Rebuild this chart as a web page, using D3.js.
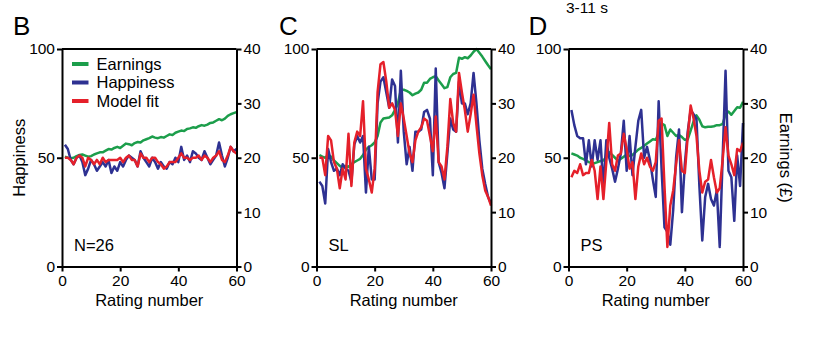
<!DOCTYPE html>
<html>
<head>
<meta charset="utf-8">
<script src="https://cdn.jsdelivr.net/npm/d3@7"></script>
<style>
  body { margin: 0; background: #fff; }
  svg { font-family: "Liberation Sans", Arial, sans-serif; }
</style>
</head>
<body>
<svg id="chart" width="816" height="354"></svg>
<script>
// rating numbers 1..60
const ratingNumbers = d3.range(1, 61);

const xTicks = [0, 20, 40, 60];
const happinessTicks = [0, 50, 100];
const earningsTicks = [0, 10, 20, 30, 40];

// Panel B (group mean, N=26)
const earningsB = [20.2, 20.0, 19.9, 20.0, 20.3, 20.5, 20.6, 20.4, 20.2, 20.3,
  20.6, 20.8, 21.0, 21.0, 21.3, 21.6, 21.5, 21.8, 22.0, 21.8,
  22.2, 22.6, 22.5, 22.3, 22.7, 22.9, 22.8, 23.2, 23.4, 23.6,
  23.9, 23.7, 23.6, 23.8, 23.7, 24.0, 24.3, 24.2, 24.6, 24.8,
  25.0, 24.9, 25.3, 25.4, 25.6, 25.5, 25.8, 26.0, 25.9, 26.1,
  26.4, 26.5, 26.8, 27.1, 26.9, 27.2, 27.7, 28.0, 28.2, 28.4];
const happinessB = [56, 54, 49, 47, 50, 51, 48, 42, 45, 49,
  47, 44, 46, 48, 46, 49, 43, 46, 44, 48,
  46, 49, 51, 50, 49, 46, 53, 50, 48, 46,
  50, 48, 45, 48, 46, 45, 48, 47, 50, 48,
  55, 49, 51, 48, 53, 52, 50, 49, 53, 50,
  47, 49, 51, 57, 51, 46, 50, 55, 53, 54];
const fitB = [50, 50, 49, 47, 50, 51, 50, 46, 50, 49,
  47, 49, 47, 50, 48, 49, 49, 49, 49, 50,
  48, 50, 51, 49, 49, 46, 52, 50, 50, 48,
  50, 50, 48, 47, 45, 46, 48, 48, 48, 50,
  52, 50, 50, 49, 50, 50, 51, 49, 51, 50,
  48, 50, 51, 53, 49, 48, 51, 55, 53, 52];

// Panel C (participant SL)
const earningsC = [20.5, 20.2, 20.0, 20.5, 20.2, 19.5, 19.0, 18.5, 18.2, 18.5,
  18.3, 18.8, 19.2, 19.5, 19.8, 20.5, 21.5, 22.0, 22.3, 22.8,
  24.0, 26.5, 27.2, 27.3, 27.4, 27.8, 28.8, 30.0, 32.5, 32.5,
  32.3, 32.0, 31.5, 31.8, 32.0, 32.5, 33.8, 33.8, 34.5, 34.8,
  35.0, 34.2, 33.5, 32.8, 33.0, 34.8, 35.4, 35.6, 38.4, 38.2,
  38.5, 38.3, 38.8, 39.5, 40.0, 39.3, 38.6, 37.8, 37.0, 36.3];
const happinessC = [39, 37, 29, 54, 48, 44, 45, 42, 47, 45,
  44, 39, 56, 60, 57, 60, 34, 55, 40, 40,
  75, 85, 87, 80, 73, 86, 83, 57, 90, 62,
  47, 55, 44, 62, 62, 63, 71, 72, 68, 42,
  91, 48, 43, 36, 52, 68, 63, 62, 85, 75,
  75, 70, 75, 89, 75, 58, 45, 38, 32, 29];
const fitC = [50, 50, 42, 60, 58, 48, 45, 36, 45, 40,
  61, 37, 57, 62, 60, 76, 45, 40, 34, 45,
  80, 93, 94, 85, 73, 75, 72, 60, 75, 68,
  60, 52, 48, 58, 62, 64, 68, 67, 60, 53,
  69, 48, 46, 40, 55, 77, 66, 62, 89, 80,
  72, 62, 70, 79, 65, 52, 42, 35, 32, 28];

// Panel D (participant PS)
const earningsD = [20.8, 20.6, 20.4, 20.0, 19.8, 19.5, 19.2, 19.0, 19.0, 19.2,
  19.4, 19.5, 20.2, 21.0, 20.5, 20.0, 19.5, 19.8, 20.2, 20.6,
  20.3, 20.5, 21.0, 21.5, 21.8, 22.2, 22.6, 23.0, 23.4, 23.3,
  24.5, 26.3, 26.0, 24.0, 25.2, 24.6, 24.0, 24.2, 23.8, 23.3,
  23.4, 25.0, 26.7, 27.8, 27.0, 25.8, 25.6, 25.7, 25.7, 25.8,
  26.0, 26.0, 26.2, 28.0, 28.5, 27.9, 28.6, 29.3, 29.2, 30.3];
const happinessD = [72, 65, 60, 59, 59, 47, 58, 46, 58, 49,
  58, 36, 58, 50, 45, 39, 45, 52, 67, 44,
  60, 42, 55, 67, 72, 50, 55, 49, 40, 32,
  76, 45, 18, 16, 10, 26, 50, 63, 25, 47,
  62, 72, 70, 68, 37, 12, 32, 38, 31, 28,
  35, 9, 50, 90, 44, 41, 21, 51, 37, 66];
const fitD = [41, 44, 43, 47, 42, 43, 43, 49, 44, 31,
  46, 31, 48, 66, 47, 44, 51, 52, 61, 54,
  45, 48, 31, 46, 52, 47, 50, 46, 44, 48,
  67, 68, 37, 9, 28, 35, 47, 58, 44, 43,
  60, 74, 68, 60, 44, 34, 39, 40, 49, 41,
  34, 36, 49, 64, 51, 47, 42, 54, 53, 57];

const panels = [
  { letter: 'B', left: 62, label: 'N=26', earnings: earningsB, happiness: happinessB, fit: fitB, yTitle: true },
  { letter: 'C', left: 316.5, label: 'SL', earnings: earningsC, happiness: happinessC, fit: fitC },
  { letter: 'D', left: 568.5, label: 'PS', earnings: earningsD, happiness: happinessD, fit: fitD, eTitle: true }
];

const colors = { earnings: '#1c9e4b', happiness: '#2e3192', fit: '#e5202a' };
const plotTop = 49, plotH = 217.5, plotW = 174.5;
const fontSize = 15.5;

const svg = d3.select('#chart');

panels.forEach((p) => {
  const x = d3.scaleLinear().domain([0, 60]).range([0, plotW]);
  const yH = d3.scaleLinear().domain([0, 100]).range([plotH, 0]);
  const yE = d3.scaleLinear().domain([0, 40]).range([plotH, 0]);

  const g = svg.append('g').attr('transform', `translate(${p.left},${plotTop})`);

  // data lines
  const lineE = d3.line().x((d, i) => x(ratingNumbers[i])).y((d) => yE(d));
  const lineH = d3.line().x((d, i) => x(ratingNumbers[i])).y((d) => yH(d));

  g.append('path').datum(p.earnings)
    .attr('fill', 'none').attr('stroke', colors.earnings)
    .attr('stroke-width', 2.5).attr('stroke-linejoin', 'round').attr('d', lineE);
  g.append('path').datum(p.happiness)
    .attr('fill', 'none').attr('stroke', colors.happiness)
    .attr('stroke-width', 2.5).attr('stroke-linejoin', 'round').attr('d', lineH);
  g.append('path').datum(p.fit)
    .attr('fill', 'none').attr('stroke', colors.fit)
    .attr('stroke-width', 2.5).attr('stroke-linejoin', 'round').attr('d', lineH);

  // axes
  const xAxis = d3.axisBottom(x).tickValues(xTicks).tickSize(5).tickSizeOuter(0).tickPadding(3);
  const leftAxis = d3.axisLeft(yH).tickValues(happinessTicks).tickSize(5).tickSizeOuter(0).tickPadding(2);
  const rightAxis = d3.axisRight(yE).tickValues(earningsTicks).tickSize(5).tickSizeOuter(0).tickPadding(2);

  const ax = g.append('g').attr('transform', `translate(0,${plotH})`).call(xAxis);
  const al = g.append('g').call(leftAxis);
  const ar = g.append('g').attr('transform', `translate(${plotW},0)`).call(rightAxis);

  [ax, al, ar].forEach((a) => {
    a.select('.domain').attr('stroke', '#000').attr('stroke-width', 2);
    a.selectAll('.tick line').attr('stroke', '#000').attr('stroke-width', 2);
    a.selectAll('.tick text').attr('fill', '#000')
      .style('font-size', fontSize + 'px')
      .style('font-family', '"Liberation Sans", Arial, sans-serif');
  });

  // top frame line
  g.append('line')
    .attr('x1', x(0)).attr('x2', x(60))
    .attr('y1', yH(100)).attr('y2', yH(100))
    .attr('stroke', '#000').attr('stroke-width', 2);

  g.append('text')
    .attr('x', x(30)).attr('y', plotH + 39)
    .attr('text-anchor', 'middle')
    .style('font-size', '16.5px')
    .text('Rating number');

  g.append('text')
    .attr('x', 12).attr('y', plotH - 16)
    .style('font-size', '16.5px')
    .text(p.label);

  svg.append('text')
    .attr('x', p.left - (p.letter === 'B' ? 49 : p.letter === 'C' ? 37.5 : 40))
    .attr('y', 35)
    .style('font-size', '26px')
    .text(p.letter);

  if (p.yTitle) {
    svg.append('text')
      .attr('transform', `translate(25,${plotTop + plotH / 2}) rotate(-90)`)
      .attr('text-anchor', 'middle')
      .style('font-size', '16.5px')
      .text('Happiness');

    const legendItems = [
      { name: 'Earnings', color: colors.earnings },
      { name: 'Happiness', color: colors.happiness },
      { name: 'Model fit', color: colors.fit }
    ];
    const legend = g.append('g').attr('transform', 'translate(10,15)');
    legendItems.forEach((d, i) => {
      legend.append('line')
        .attr('x1', 0).attr('x2', 16.5)
        .attr('y1', i * 18.5).attr('y2', i * 18.5)
        .attr('stroke', d.color).attr('stroke-width', 4);
      legend.append('text')
        .attr('x', 24.5).attr('y', i * 18.5)
        .attr('dy', '0.36em')
        .style('font-size', '16.5px')
        .text(d.name);
    });
  }

  if (p.eTitle) {
    svg.append('text')
      .attr('transform', `translate(780,${plotTop + plotH / 2}) rotate(90)`)
      .attr('text-anchor', 'middle')
      .style('font-size', '16.5px')
      .text('Earnings (£)');
  }
});

svg.append('text')
  .attr('x', 566).attr('y', 12.5)
  .style('font-size', '15.5px')
  .text('3-11 s');
</script>
</body>
</html>
